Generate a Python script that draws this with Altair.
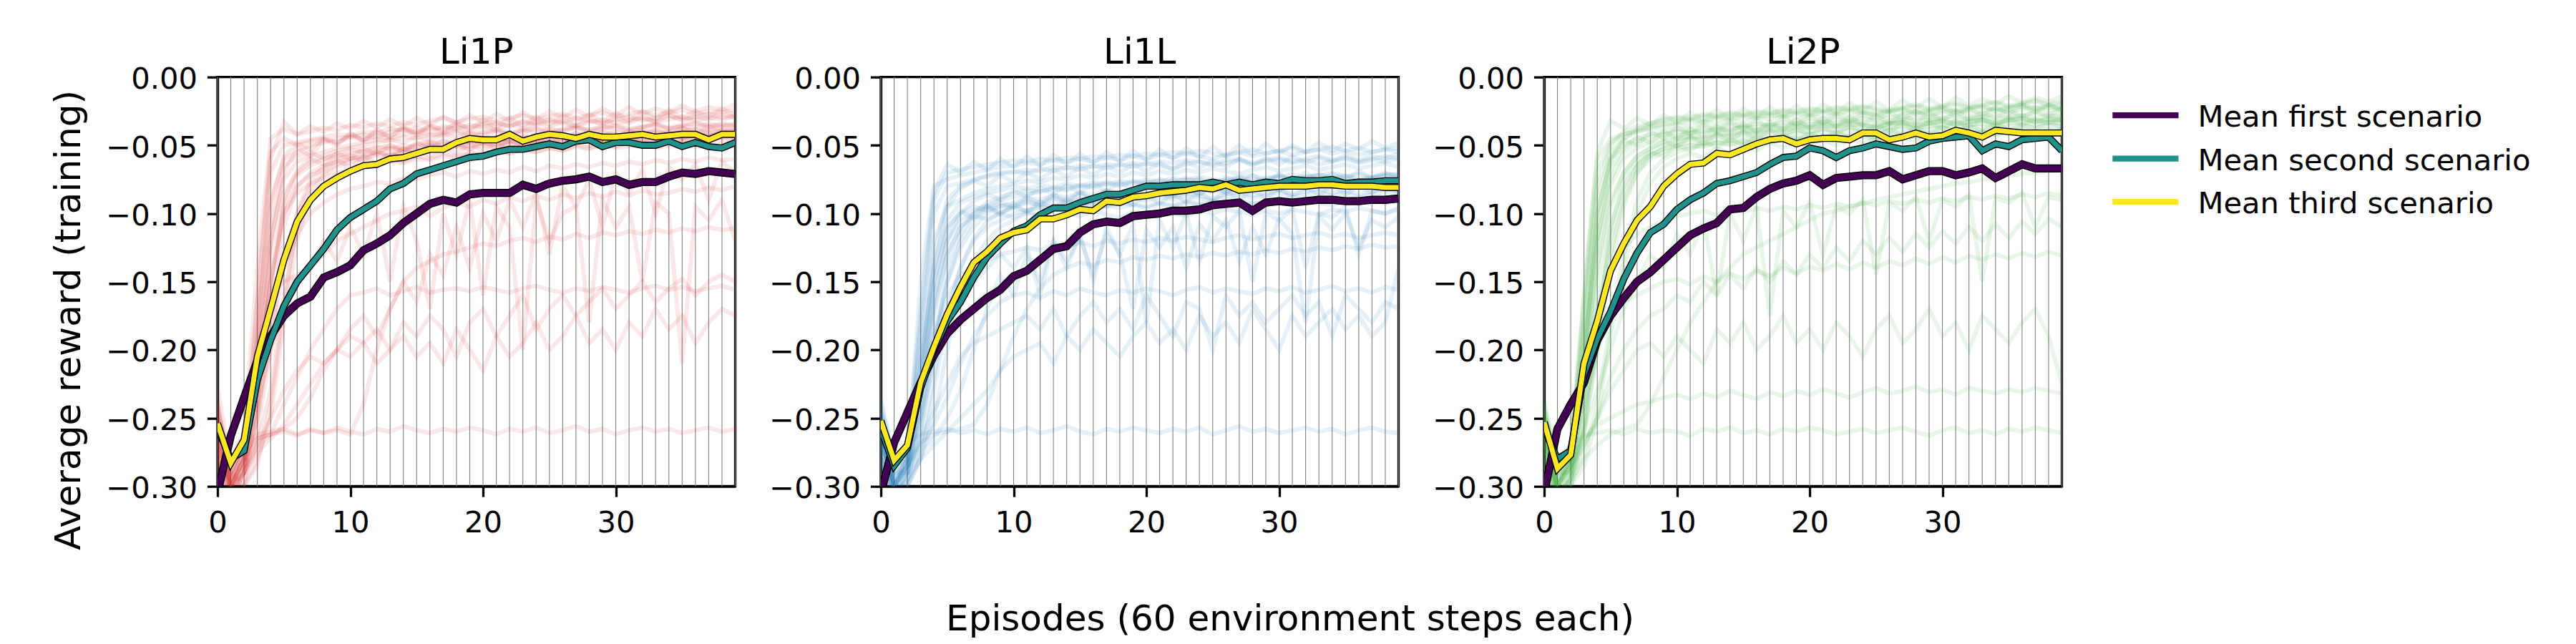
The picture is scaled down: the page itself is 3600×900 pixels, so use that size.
import altair as alt
import pandas as pd

FONT = "DejaVu Sans"

# ---------------- data ----------------
episodes = list(range(40))
panel_names = ["Li1P", "Li1L", "Li2P"]
run_colors = ["#d62728", "#1f77b4", "#2ca02c"]
scenario_names = ["Mean first scenario", "Mean second scenario", "Mean third scenario"]
scenario_colors = ["#440154", "#21918c", "#fde725"]
x_ticks = [0, 10, 20, 30]
y_ticks = [-0.30, -0.25, -0.20, -0.15, -0.10, -0.05, 0.00]

# mean curves (average reward per episode)
li1p_first = [-0.305, -0.263, -0.235, -0.208, -0.190, -0.175, -0.166, -0.161, -0.147, -0.143,
              -0.138, -0.127, -0.122, -0.116, -0.107, -0.100, -0.093, -0.090, -0.092, -0.086,
              -0.085, -0.085, -0.085, -0.079, -0.082, -0.078, -0.076, -0.075, -0.073, -0.077,
              -0.075, -0.079, -0.077, -0.077, -0.073, -0.070, -0.071, -0.069, -0.070, -0.071]
li1p_second = [-0.258, -0.280, -0.274, -0.222, -0.193, -0.168, -0.150, -0.138, -0.126, -0.112,
               -0.103, -0.097, -0.091, -0.082, -0.078, -0.071, -0.068, -0.065, -0.062, -0.059,
               -0.058, -0.055, -0.053, -0.053, -0.051, -0.049, -0.051, -0.047, -0.046, -0.051,
               -0.048, -0.048, -0.050, -0.050, -0.047, -0.051, -0.048, -0.051, -0.052, -0.048]
li1p_third = [-0.254, -0.283, -0.266, -0.205, -0.170, -0.134, -0.106, -0.090, -0.080, -0.074,
              -0.069, -0.065, -0.064, -0.060, -0.059, -0.056, -0.053, -0.053, -0.048, -0.045,
              -0.046, -0.046, -0.042, -0.047, -0.044, -0.042, -0.043, -0.045, -0.042, -0.044,
              -0.044, -0.043, -0.042, -0.044, -0.043, -0.042, -0.042, -0.046, -0.042, -0.042]

li1l_first = [-0.305, -0.268, -0.246, -0.224, -0.204, -0.188, -0.178, -0.170, -0.162, -0.156,
              -0.146, -0.142, -0.134, -0.126, -0.124, -0.114, -0.108, -0.106, -0.107, -0.102,
              -0.101, -0.100, -0.098, -0.098, -0.097, -0.094, -0.093, -0.092, -0.098, -0.092,
              -0.091, -0.092, -0.091, -0.090, -0.090, -0.091, -0.091, -0.090, -0.090, -0.089]
li1l_second = [-0.258, -0.285, -0.272, -0.228, -0.200, -0.179, -0.165, -0.147, -0.132, -0.122,
               -0.113, -0.109, -0.101, -0.096, -0.096, -0.092, -0.089, -0.086, -0.086, -0.083,
               -0.080, -0.080, -0.079, -0.079, -0.079, -0.077, -0.079, -0.077, -0.079, -0.077,
               -0.078, -0.075, -0.076, -0.076, -0.075, -0.078, -0.077, -0.077, -0.076, -0.076]
li1l_third = [-0.252, -0.281, -0.270, -0.224, -0.198, -0.174, -0.154, -0.136, -0.128, -0.118,
              -0.114, -0.112, -0.104, -0.104, -0.101, -0.097, -0.098, -0.091, -0.092, -0.088,
              -0.087, -0.085, -0.084, -0.083, -0.081, -0.082, -0.079, -0.083, -0.082, -0.081,
              -0.080, -0.080, -0.080, -0.079, -0.079, -0.080, -0.080, -0.080, -0.081, -0.081]

li2p_first = [-0.305, -0.258, -0.240, -0.224, -0.193, -0.175, -0.162, -0.150, -0.143, -0.134,
              -0.125, -0.116, -0.111, -0.107, -0.097, -0.096, -0.088, -0.082, -0.078, -0.076,
              -0.072, -0.079, -0.074, -0.073, -0.072, -0.072, -0.069, -0.075, -0.072, -0.069,
              -0.069, -0.072, -0.070, -0.067, -0.074, -0.069, -0.064, -0.067, -0.067, -0.067]
li2p_second = [-0.258, -0.280, -0.274, -0.218, -0.192, -0.172, -0.148, -0.129, -0.114, -0.108,
               -0.097, -0.090, -0.085, -0.078, -0.076, -0.073, -0.070, -0.064, -0.059, -0.058,
               -0.052, -0.054, -0.059, -0.054, -0.052, -0.049, -0.051, -0.053, -0.052, -0.047,
               -0.045, -0.044, -0.043, -0.054, -0.049, -0.051, -0.046, -0.045, -0.044, -0.054]
li2p_third = [-0.253, -0.287, -0.277, -0.210, -0.179, -0.142, -0.122, -0.105, -0.095, -0.080,
              -0.071, -0.064, -0.063, -0.056, -0.057, -0.053, -0.049, -0.046, -0.045, -0.049,
              -0.046, -0.045, -0.045, -0.046, -0.041, -0.041, -0.046, -0.044, -0.041, -0.044,
              -0.043, -0.039, -0.041, -0.044, -0.039, -0.040, -0.041, -0.041, -0.041, -0.041]

# individual training runs (average reward x 1000)
li1p_runs = [
    [-270,-300,-280,-180,-90,-60,-55,-50,-48,-45, -44,-42,-45,-40,-38,-41,-36,-38,-35,-37, -34,-33,-36,-32,-34,-31,-33,-30,-32,-34, -31,-29,-32,-30,-28,-31,-29,-27,-30,-28],
    [-250,-290,-300,-240,-120,-75,-62,-58,-55,-52, -50,-48,-46,-47,-44,-45,-42,-43,-40,-44, -41,-39,-42,-40,-38,-41,-39,-37,-40,-38, -36,-39,-37,-35,-38,-36,-37,-34,-36,-35],
    [-280,-310,-290,-260,-200,-110,-80,-70,-65,-62, -60,-58,-55,-57,-53,-54,-50,-52,-49,-51, -48,-50,-47,-49,-46,-48,-45,-47,-44,-46, -45,-43,-46,-44,-42,-45,-43,-44,-42,-43],
    [-230,-280,-260,-140,-45,-38,-42,-40,-37,-39, -35,-37,-34,-36,-33,-35,-32,-30,-33,-31, -29,-32,-30,-28,-31,-29,-27,-30,-28,-26, -29,-27,-25,-28,-26,-24,-27,-25,-26,-24],
    [-260,-300,-290,-220,-150,-95,-72,-65,-60,-58, -56,-54,-52,-50,-53,-49,-47,-50,-46,-48, -45,-47,-44,-46,-43,-45,-42,-44,-41,-43, -40,-42,-39,-41,-40,-38,-40,-39,-37,-39],
    [-290,-320,-300,-280,-250,-180,-120,-85,-72,-66, -62,-60,-57,-58,-55,-56,-53,-54,-51,-53, -50,-52,-49,-50,-48,-51,-47,-49,-46,-48, -47,-45,-48,-46,-44,-47,-45,-46,-44,-45],
    [-240,-290,-270,-190,-70,-50,-48,-46,-44,-42, -43,-40,-41,-38,-39,-37,-40,-36,-38,-35, -37,-34,-36,-33,-35,-32,-34,-36,-33,-31, -34,-32,-30,-33,-31,-29,-32,-30,-31,-29],
    [-270,-300,-270,-230,-170,-130,-100,-80,-70,-64, -60,-57,-55,-52,-54,-50,-48,-51,-47,-45, -48,-44,-46,-43,-45,-42,-44,-41,-43,-40, -42,-44,-41,-39,-42,-40,-38,-41,-39,-40],
    [-255,-295,-285,-200,-110,-65,-58,-55,-60,-56, -53,-55,-51,-53,-50,-52,-49,-47,-50,-48, -46,-49,-47,-45,-48,-46,-44,-47,-45,-43, -46,-44,-45,-43,-41,-44,-42,-43,-41,-42],
    [-245,-285,-275,-160,-55,-45,-50,-47,-45,-48, -44,-46,-43,-45,-42,-40,-43,-41,-39,-42, -40,-38,-41,-39,-37,-40,-38,-36,-39,-37, -35,-38,-36,-34,-37,-35,-33,-36,-34,-35],
    [-285,-310,-295,-270,-230,-160,-110,-90,-78,-72, -68,-65,-63,-60,-62,-58,-60,-56,-58,-55, -57,-54,-56,-53,-55,-52,-54,-51,-53,-50, -52,-51,-49,-52,-50,-48,-51,-49,-50,-48],
    [-265,-300,-280,-210,-130,-85,-70,-62,-58,-54, -52,-50,-48,-46,-48,-44,-46,-42,-44,-41, -43,-40,-42,-39,-41,-38,-40,-37,-39,-36, -38,-40,-37,-35,-38,-36,-34,-37,-35,-36],
    [-275,-305,-285,-250,-190,-140,-115,-100,-92,-86, -82,-80,-77,-78,-74,-75,-72,-70,-73,-69, -71,-68,-70,-66,-69,-65,-67,-64,-66,-63, -65,-62,-64,-61,-63,-60,-62,-59,-61,-60],
    [-250,-295,-280,-230,-150,-100,-85,-78,-74,-70, -68,-66,-64,-62,-63,-60,-61,-58,-59,-56, -57,-55,-56,-53,-55,-52,-54,-50,-52,-49, -51,-48,-50,-47,-49,-46,-48,-45,-47,-46],
    [-265,-300,-285,-215,-120,-70,-52,-58,-46,-50, -41,-47,-38,-44,-36,-42,-35,-40,-33,-39, -31,-37,-30,-36,-29,-35,-28,-34,-27,-33, -26,-32,-25,-31,-24,-30,-25,-29,-23,-28],
    [-280,-300,-290,-250,-170,-90,-68,-60,-64,-56, -60,-52,-57,-50,-55,-48,-53,-46,-51,-45, -50,-44,-49,-43,-48,-42,-47,-41,-46,-40, -45,-39,-44,-38,-43,-37,-42,-36,-41,-38],
    [-245,-290,-280,-170,-60,-33,-42,-36,-40,-34, -38,-32,-37,-31,-36,-30,-35,-29,-34,-28, -33,-27,-32,-26,-31,-25,-30,-24,-29,-23, -28,-22,-27,-23,-26,-21,-25,-22,-24,-20],
    [-270,-305,-290,-240,-150,-100,-80,-72,-68,-61, -66,-58,-63,-55,-60,-53,-58,-51,-56,-49, -54,-48,-53,-47,-52,-46,-51,-45,-50,-44, -49,-43,-48,-42,-47,-41,-46,-40,-45,-41],
    [-255,-295,-275,-195,-95,-58,-49,-53,-45,-49, -42,-46,-40,-44,-38,-43,-37,-41,-36,-40, -35,-39,-34,-38,-33,-37,-32,-36,-31,-35, -30,-34,-29,-33,-28,-32,-29,-31,-27,-30],
    [-290,-315,-300,-285,-240,-170,-100,-75,-66,-60, -57,-62,-54,-59,-52,-57,-50,-55,-49,-53, -47,-52,-46,-51,-45,-50,-44,-49,-43,-48, -42,-47,-41,-46,-40,-45,-41,-44,-39,-43],
    [-240,-290,-270,-262,-260,-258,-262,-259,-261,-257, -260,-262,-258,-260,-256,-259,-261,-258,-260,-257, -259,-262,-258,-260,-257,-261,-259,-256,-260,-258, -262,-259,-257,-260,-258,-261,-259,-257,-260,-258],
    [-260,-300,-280,-265,-262,-240,-220,-200,-185,-170, -160,-158,-155,-160,-157,-154,-158,-156,-155,-157, -154,-156,-158,-155,-153,-156,-158,-155,-157,-154, -156,-158,-155,-153,-156,-154,-157,-155,-153,-156],
    [-270,-300,-285,-270,-262,-258,-250,-235,-215,-200, -185,-175,-190,-170,-150,-165,-130,-145,-110,-140, -100,-120,-90,-110,-85,-130,-80,-95,-75,-110, -70,-85,-68,-100,-66,-75,-64,-90,-62,-70],
    [-280,-310,-290,-270,-250,-230,-215,-205,-210,-200, -190,-195,-185,-200,-180,-190,-175,-185,-205,-180, -170,-190,-175,-160,-185,-170,-160,-175,-165,-155, -170,-160,-150,-165,-155,-148,-160,-150,-145,-150],
    [-260,-300,-280,-240,-200,-170,-150,-140,-120,-135, -110,-130,-100,-150,-95,-120,-170,-100,-130,-90, -160,-95,-110,-200,-90,-120,-100,-95,-180,-90, -110,-95,-150,-92,-100,-210,-95,-105,-90,-120],
    [-250,-290,-270,-200,-160,-150,-145,-140,-130,-120, -115,-110,-105,-100,-98,-95,-102,-96,-92,-95, -90,-93,-88,-91,-87,-90,-86,-89,-85,-88, -84,-87,-83,-86,-85,-82,-84,-81,-83,-80],
    [-275,-305,-290,-275,-265,-255,-240,-225,-210,-200, -205,-195,-210,-200,-190,-205,-195,-210,-185,-200, -215,-190,-205,-195,-180,-200,-190,-175,-195,-185, -200,-180,-190,-170,-185,-175,-195,-180,-170,-175],
    [-255,-295,-275,-265,-262,-260,-263,-258,-261,-259, -262,-240,-200,-170,-150,-140,-135,-130,-128,-125, -122,-124,-120,-118,-121,-117,-119,-115,-118,-114, -116,-113,-115,-112,-114,-111,-113,-110,-112,-111],
]

li1l_runs = [
    [-260,-300,-280,-150,-80,-75,-72,-70,-68,-66, -65,-63,-64,-61,-62,-60,-62,-59,-61,-58, -60,-57,-59,-56,-58,-60,-57,-55,-58,-56, -54,-57,-55,-53,-56,-54,-57,-55,-53,-55],
    [-250,-290,-290,-240,-170,-130,-110,-100,-95,-90, -88,-86,-84,-82,-83,-80,-81,-78,-80,-77, -79,-76,-78,-75,-77,-79,-76,-74,-77,-75, -73,-76,-74,-72,-75,-73,-76,-74,-72,-74],
    [-270,-310,-300,-270,-220,-170,-140,-120,-110,-105, -100,-98,-96,-94,-95,-92,-93,-90,-92,-89, -91,-88,-90,-87,-89,-91,-88,-86,-89,-87, -85,-88,-86,-84,-87,-85,-88,-86,-84,-86],
    [-240,-280,-270,-200,-120,-95,-90,-85,-82,-80, -78,-76,-77,-74,-75,-72,-74,-71,-73,-70, -72,-69,-71,-68,-70,-67,-69,-71,-68,-66, -69,-67,-65,-68,-66,-64,-67,-65,-63,-66],
    [-280,-310,-290,-250,-190,-150,-125,-110,-100,-95, -92,-89,-90,-87,-88,-85,-86,-83,-85,-82, -84,-81,-83,-80,-82,-84,-81,-79,-82,-80, -78,-81,-79,-77,-80,-78,-81,-79,-77,-79],
    [-255,-295,-285,-230,-160,-120,-105,-98,-94,-100, -96,-98,-95,-97,-94,-96,-93,-95,-92,-94, -96,-93,-95,-92,-94,-91,-93,-95,-92,-94, -91,-93,-90,-92,-94,-91,-93,-90,-92,-91],
    [-265,-300,-275,-190,-100,-80,-78,-75,-73,-71, -70,-68,-69,-66,-67,-65,-66,-64,-65,-63, -64,-62,-63,-61,-62,-64,-61,-60,-63,-61, -59,-62,-60,-58,-61,-59,-62,-60,-58,-60],
    [-285,-320,-300,-280,-250,-200,-160,-135,-120,-110, -105,-100,-102,-98,-100,-96,-98,-94,-96,-93, -95,-92,-94,-91,-93,-95,-92,-90,-93,-91, -89,-92,-90,-88,-91,-89,-92,-90,-88,-90],
    [-245,-285,-270,-210,-140,-105,-92,-88,-85,-83, -80,-82,-79,-81,-78,-80,-77,-79,-76,-78, -75,-77,-74,-76,-73,-75,-77,-74,-72,-75, -73,-71,-74,-72,-70,-73,-71,-74,-72,-71],
    [-275,-305,-295,-260,-200,-140,-115,-100,-92,-88, -85,-83,-84,-81,-82,-79,-80,-77,-79,-76, -78,-75,-77,-74,-76,-78,-75,-73,-76,-74, -72,-75,-73,-71,-74,-72,-75,-73,-71,-72],
    [-260,-300,-285,-220,-150,-110,-100,-95,-98,-94, -96,-92,-94,-90,-92,-89,-91,-88,-90,-87, -89,-86,-88,-85,-87,-89,-86,-84,-87,-85, -83,-86,-84,-82,-85,-83,-86,-84,-82,-84],
    [-250,-290,-280,-180,-90,-70,-68,-66,-64,-63, -61,-62,-60,-61,-59,-60,-58,-59,-57,-58, -56,-57,-55,-56,-54,-56,-58,-55,-53,-56, -54,-52,-55,-53,-51,-54,-52,-55,-53,-52],
    [-270,-305,-290,-240,-175,-130,-110,-102,-104,-100, -103,-99,-101,-104,-100,-102,-98,-101,-103,-99, -101,-98,-100,-102,-98,-100,-97,-99,-101,-98, -100,-97,-99,-101,-97,-99,-96,-98,-100,-97],
    [-255,-295,-280,-220,-130,-90,-80,-76,-72,-70, -69,-71,-67,-69,-66,-68,-65,-67,-64,-66, -63,-65,-67,-64,-62,-65,-63,-61,-64,-62, -60,-63,-61,-64,-62,-60,-63,-61,-62,-60],
    [-265,-300,-285,-210,-140,-95,-82,-76,-80,-72, -77,-70,-75,-68,-73,-66,-72,-65,-70,-64, -69,-63,-68,-62,-67,-61,-66,-60,-65,-59, -64,-58,-63,-59,-62,-57,-61,-58,-60,-56],
    [-280,-305,-295,-255,-200,-150,-120,-105,-96,-92, -95,-88,-93,-86,-91,-84,-90,-83,-89,-82, -88,-81,-87,-80,-86,-79,-85,-78,-84,-77, -83,-76,-82,-75,-81,-76,-80,-74,-79,-75],
    [-245,-285,-270,-170,-85,-64,-70,-62,-68,-60, -66,-58,-65,-57,-64,-56,-63,-55,-62,-54, -61,-53,-60,-52,-59,-51,-58,-50,-57,-49, -56,-50,-55,-48,-54,-49,-53,-47,-52,-48],
    [-270,-300,-290,-235,-165,-120,-100,-91,-86,-90, -83,-88,-81,-86,-79,-85,-78,-84,-77,-83, -76,-82,-75,-81,-74,-80,-73,-79,-72,-78, -71,-77,-70,-76,-71,-75,-69,-74,-70,-73],
    [-255,-295,-280,-225,-150,-112,-98,-104,-95,-101, -93,-99,-91,-97,-89,-96,-88,-95,-87,-94, -86,-93,-85,-92,-84,-91,-83,-90,-82,-89, -81,-88,-80,-87,-79,-86,-80,-85,-78,-84],
    [-285,-315,-300,-280,-230,-175,-140,-118,-106,-99, -95,-91,-94,-88,-92,-86,-90,-85,-89,-84, -88,-83,-87,-82,-86,-81,-85,-80,-84,-79, -83,-78,-82,-77,-81,-78,-80,-76,-79,-77],
    [-235,-285,-268,-262,-260,-258,-261,-259,-262,-258, -260,-257,-261,-259,-256,-260,-262,-258,-260,-257, -259,-261,-258,-260,-257,-262,-259,-256,-260,-258, -261,-259,-257,-260,-258,-262,-259,-257,-260,-261],
    [-255,-300,-285,-270,-255,-235,-210,-190,-175,-165, -160,-158,-162,-157,-160,-155,-158,-160,-156,-158, -155,-157,-160,-156,-154,-158,-155,-157,-159,-155, -157,-154,-158,-156,-153,-157,-155,-158,-154,-156],
    [-270,-305,-290,-275,-265,-250,-230,-200,-170,-145, -160,-130,-150,-120,-140,-115,-150,-110,-130,-108, -180,-105,-125,-100,-135,-102,-110,-98,-150,-100, -105,-97,-140,-100,-103,-95,-130,-98,-100,-96],
    [-265,-300,-285,-265,-245,-225,-205,-195,-190,-185, -180,-175,-185,-170,-190,-175,-165,-180,-170,-185, -160,-175,-190,-165,-170,-200,-160,-175,-165,-180, -170,-160,-175,-165,-190,-160,-170,-180,-165,-170],
    [-250,-290,-275,-230,-190,-160,-145,-140,-135,-130, -128,-125,-127,-123,-125,-121,-124,-120,-122,-119, -121,-118,-120,-117,-119,-121,-118,-116,-119,-117, -115,-118,-116,-114,-117,-115,-118,-116,-114,-116],
    [-280,-310,-295,-280,-270,-260,-250,-240,-230,-215, -205,-200,-195,-210,-190,-200,-185,-195,-205,-190, -180,-195,-185,-200,-175,-190,-180,-195,-170,-185, -200,-175,-190,-180,-170,-185,-175,-190,-180,-140],
    [-260,-300,-280,-250,-210,-180,-160,-150,-140,-130, -140,-125,-160,-120,-135,-118,-145,-115,-130,-170, -112,-125,-110,-140,-108,-120,-105,-135,-110,-130, -104,-115,-180,-102,-112,-100,-125,-105,-110,-103],
    [-265,-300,-285,-268,-262,-260,-258,-255,-240,-215, -190,-170,-155,-145,-140,-136,-138,-134,-136,-132, -134,-131,-133,-130,-132,-129,-131,-128,-130,-127, -129,-126,-128,-125,-127,-124,-126,-123,-125,-124],
]

li2p_runs = [
    [-260,-300,-280,-160,-60,-45,-42,-40,-38,-37, -35,-36,-33,-34,-32,-33,-30,-31,-29,-31, -28,-30,-27,-29,-26,-28,-30,-27,-25,-28, -26,-24,-27,-25,-23,-26,-24,-22,-25,-23],
    [-250,-290,-290,-230,-130,-80,-60,-52,-48,-45, -43,-41,-40,-38,-39,-36,-37,-35,-36,-34, -35,-33,-34,-32,-33,-35,-32,-31,-33,-31, -30,-32,-30,-29,-31,-29,-28,-30,-28,-29],
    [-270,-310,-300,-260,-200,-140,-95,-70,-58,-52, -48,-45,-46,-43,-44,-41,-42,-40,-41,-39, -40,-38,-39,-37,-38,-40,-37,-36,-38,-36, -35,-37,-35,-34,-36,-34,-33,-35,-33,-34],
    [-240,-280,-270,-180,-80,-50,-40,-36,-34,-32, -30,-31,-28,-29,-27,-28,-26,-27,-25,-26, -24,-25,-23,-24,-22,-24,-26,-23,-21,-24, -22,-20,-23,-21,-19,-22,-20,-18,-21,-19],
    [-280,-310,-290,-240,-170,-110,-80,-65,-57,-53, -50,-48,-49,-46,-47,-44,-45,-43,-44,-41, -42,-40,-41,-39,-40,-42,-39,-38,-40,-38, -37,-39,-37,-36,-38,-36,-35,-37,-35,-36],
    [-255,-295,-285,-210,-100,-60,-50,-45,-42,-40, -38,-39,-36,-37,-35,-36,-34,-35,-33,-34, -32,-33,-31,-32,-30,-32,-34,-31,-29,-32, -30,-28,-31,-29,-27,-30,-28,-26,-29,-27],
    [-265,-300,-275,-200,-120,-75,-55,-48,-44,-42, -40,-41,-39,-40,-38,-37,-39,-36,-38,-35, -37,-34,-36,-33,-35,-37,-34,-33,-36,-34, -32,-35,-33,-31,-34,-32,-30,-33,-31,-32],
    [-285,-320,-300,-275,-240,-180,-130,-90,-70,-60, -55,-52,-50,-48,-50,-47,-48,-45,-46,-44, -45,-43,-44,-42,-43,-45,-42,-41,-43,-41, -40,-42,-40,-39,-41,-39,-38,-40,-38,-39],
    [-245,-285,-270,-190,-90,-55,-45,-40,-37,-35, -34,-32,-33,-30,-31,-29,-30,-28,-29,-27, -28,-26,-27,-25,-26,-28,-25,-24,-27,-25, -23,-26,-24,-22,-25,-23,-21,-24,-22,-23],
    [-275,-305,-295,-250,-180,-120,-85,-65,-55,-50, -46,-44,-45,-42,-43,-40,-41,-39,-40,-37, -38,-36,-37,-35,-36,-38,-35,-34,-36,-34, -33,-35,-33,-32,-34,-32,-31,-33,-31,-32],
    [-260,-300,-285,-220,-140,-90,-70,-58,-52,-48, -45,-43,-44,-41,-42,-39,-40,-38,-39,-36, -37,-35,-36,-34,-35,-37,-34,-33,-35,-33, -32,-34,-32,-31,-33,-31,-30,-32,-30,-31],
    [-250,-290,-280,-170,-70,-48,-42,-39,-36,-34, -33,-31,-32,-29,-30,-28,-29,-27,-28,-26, -27,-25,-26,-24,-25,-27,-24,-23,-26,-24, -22,-25,-23,-21,-24,-22,-20,-23,-21,-22],
    [-275,-310,-295,-260,-200,-130,-90,-70,-60,-55, -52,-50,-51,-48,-49,-47,-48,-46,-47,-45, -46,-44,-45,-43,-44,-46,-43,-42,-44,-42, -41,-43,-41,-40,-42,-40,-39,-41,-39,-40],
    [-245,-285,-275,-200,-100,-60,-45,-38,-34,-31, -29,-30,-27,-28,-26,-27,-25,-26,-24,-25, -23,-24,-22,-23,-21,-23,-25,-22,-20,-23, -21,-19,-22,-20,-18,-21,-19,-17,-20,-18],
    [-265,-300,-285,-205,-110,-62,-46,-50,-40,-45, -37,-42,-35,-40,-33,-38,-32,-37,-30,-35, -29,-34,-28,-33,-27,-32,-26,-31,-25,-30, -24,-29,-23,-28,-22,-27,-21,-26,-20,-25],
    [-280,-305,-295,-255,-190,-110,-75,-62,-55,-58, -50,-54,-47,-52,-45,-50,-43,-48,-42,-47, -41,-46,-40,-45,-39,-44,-38,-43,-37,-42, -36,-41,-35,-40,-34,-39,-35,-38,-33,-37],
    [-245,-285,-270,-160,-55,-32,-38,-30,-35,-28, -33,-26,-31,-24,-30,-23,-29,-22,-28,-21, -27,-20,-26,-19,-25,-18,-24,-17,-23,-16, -22,-15,-21,-16,-20,-14,-19,-15,-18,-14],
    [-270,-300,-290,-230,-150,-95,-70,-58,-52,-47, -51,-44,-49,-42,-47,-40,-46,-39,-44,-38, -43,-37,-42,-36,-41,-35,-40,-34,-39,-33, -38,-32,-37,-31,-36,-30,-35,-31,-34,-30],
    [-255,-295,-280,-215,-120,-68,-52,-44,-48,-40, -45,-38,-43,-36,-41,-34,-40,-33,-38,-31, -37,-30,-36,-29,-35,-28,-34,-27,-33,-26, -32,-25,-31,-26,-30,-24,-29,-25,-28,-23],
    [-290,-315,-300,-285,-250,-190,-140,-100,-78,-66, -60,-56,-59,-52,-56,-50,-54,-48,-52,-47, -51,-46,-50,-45,-49,-44,-48,-43,-47,-42, -46,-41,-45,-40,-44,-39,-43,-40,-42,-38],
    [-238,-288,-270,-263,-261,-259,-262,-258,-261,-259, -260,-263,-258,-260,-257,-261,-259,-262,-258,-260, -257,-259,-262,-260,-258,-261,-259,-257,-260,-263, -259,-257,-261,-259,-262,-258,-260,-257,-259,-261],
    [-260,-300,-280,-265,-255,-250,-245,-240,-238,-235, -233,-236,-232,-235,-230,-233,-236,-231,-234,-230, -233,-229,-232,-235,-231,-228,-232,-230,-227,-231, -229,-233,-228,-230,-232,-229,-231,-228,-230,-232],
    [-270,-300,-285,-260,-230,-200,-170,-150,-130,-140, -115,-130,-105,-160,-100,-120,-95,-175,-98,-110, -92,-130,-95,-100,-90,-145,-92,-98,-88,-120, -90,-95,-86,-150,-89,-92,-85,-110,-88,-90],
    [-265,-300,-285,-270,-250,-220,-200,-185,-175,-170, -160,-165,-150,-160,-145,-155,-140,-150,-135,-145, -130,-140,-125,-135,-120,-130,-118,-128,-115,-125, -113,-122,-110,-120,-108,-118,-106,-115,-104,-110],
    [-250,-290,-270,-220,-170,-140,-125,-115,-110,-105, -102,-100,-98,-101,-97,-99,-96,-98,-95,-97, -94,-96,-93,-95,-92,-94,-91,-93,-90,-92, -89,-91,-88,-90,-87,-89,-86,-88,-85,-87],
    [-280,-310,-295,-280,-270,-262,-258,-255,-240,-220, -200,-180,-165,-150,-140,-130,-125,-120,-115,-110, -105,-100,-98,-95,-93,-90,-88,-86,-84,-82, -80,-78,-77,-75,-74,-72,-71,-70,-69,-68],
    [-270,-305,-290,-270,-250,-230,-215,-200,-195,-205, -190,-200,-210,-185,-195,-180,-200,-190,-175,-195, -185,-200,-180,-190,-205,-185,-175,-195,-185,-170, -190,-180,-200,-175,-185,-195,-180,-170,-190,-225],
    [-255,-295,-280,-240,-200,-175,-165,-160,-155,-150, -148,-152,-146,-150,-144,-148,-142,-146,-140,-144, -139,-142,-137,-141,-136,-140,-135,-138,-133,-137, -132,-136,-131,-134,-130,-133,-129,-132,-128,-131],
]

panel_means = [
    [li1p_first, li1p_second, li1p_third],
    [li1l_first, li1l_second, li1l_third],
    [li2p_first, li2p_second, li2p_third],
]
panel_runs = [li1p_runs, li1l_runs, li2p_runs]

for runs in panel_runs:
    for r in runs:
        assert len(r) == len(episodes), len(r)
for means in panel_means:
    for m in means:
        assert len(m) == len(episodes), len(m)

# ---------------- layout constants ----------------
PLOT_W = 723.5
PLOT_H = 571.8
mean_widths = [8.5, 7.0, 7.0]
outline_extra = 2.8


def make_panel(idx):
    name = panel_names[idx]
    runs_df = pd.DataFrame(
        [{"run": r, "episode": e, "reward": v / 1000.0}
         for r, vals in enumerate(panel_runs[idx])
         for e, v in zip(episodes, vals)]
    )
    grid_df = pd.DataFrame({"episode": episodes})

    xscale = alt.Scale(domain=[0, 39], nice=False, zero=False)
    yscale = alt.Scale(domain=[-0.30, 0.0], nice=False, zero=False)

    if idx == 1:
        xaxis = alt.Axis(values=x_ticks, format="d",
                         title="Episodes (60 environment steps each)",
                         titleX=571.5, titleY=200.6, titleAngle=0,
                         titleAlign="center", titleBaseline="alphabetic")
    else:
        xaxis = alt.Axis(values=x_ticks, format="d", title="")
    if idx == 0:
        yaxis = alt.Axis(values=y_ticks, format=".2f",
                         title="Average reward (training)",
                         titleX=-193, titleY=339.4, titleAngle=270,
                         titleAlign="center", titleBaseline="alphabetic")
    else:
        yaxis = alt.Axis(values=y_ticks, format=".2f", title="")

    x_enc = alt.X("episode:Q", scale=xscale, axis=xaxis)
    y_enc = alt.Y("reward:Q", scale=yscale, axis=yaxis)

    layers = [
        alt.Chart(grid_df).mark_rule(color="#808080", strokeWidth=1.1).encode(x=x_enc),
        alt.Chart(runs_df).mark_line(color=run_colors[idx], opacity=0.11,
                                     strokeWidth=6, clip=True)
        .encode(x=x_enc, y=y_enc, detail="run:N"),
    ]
    for s in range(3):
        mdf = pd.DataFrame({"episode": episodes, "reward": panel_means[idx][s]})
        w = mean_widths[s]
        layers.append(
            alt.Chart(mdf).mark_line(color="black", strokeWidth=w + outline_extra, clip=True)
            .encode(x=x_enc, y=y_enc)
        )
        layers.append(
            alt.Chart(mdf).mark_line(color=scenario_colors[s], strokeWidth=w, clip=True)
            .encode(x=x_enc, y=y_enc)
        )

    return alt.layer(*layers).properties(
        width=PLOT_W,
        height=PLOT_H,
        title=alt.TitleParams(name, fontSize=50, font=FONT, fontWeight="normal",
                              color="black", frame="group", anchor="middle",
                              baseline="alphabetic", offset=-48),
        view=alt.ViewBackground(stroke="black", strokeWidth=3.3, strokeOpacity=1),
    )


panels = [make_panel(i) for i in range(3)]

# legend drawn as its own small view to the right of the third panel
legend_df = pd.DataFrame({"label": scenario_names, "row": [0, 1, 2]})
leg_y = alt.Y("row:Q", scale=alt.Scale(domain=[0, 2], range=[53.4, 174.4]), axis=None)
leg_color = alt.Color("label:N", scale=alt.Scale(domain=scenario_names, range=scenario_colors),
                      legend=None)
legend_rules = alt.Chart(legend_df).mark_rule(strokeWidth=8.3).encode(
    x=alt.value(-132.7), x2=alt.value(-40.5), y=leg_y, color=leg_color
)
legend_text = alt.Chart(legend_df).mark_text(
    align="left", baseline="middle", dy=3, fontSize=41.67, font=FONT, color="black"
).encode(x=alt.value(-13.5), y=leg_y, text="label:N")
legend_view = alt.layer(legend_rules, legend_text).properties(width=460, height=PLOT_H)

chart = alt.hconcat(*panels, legend_view, spacing=203, bounds="flush").properties(
    padding={"left": 61, "top": 38.7, "right": 5, "bottom": 0}
).configure(
    font=FONT, background="white"
).configure_view(
    strokeOpacity=0
).configure_axis(
    labelFont=FONT, labelFontSize=41.67, labelColor="black",
    titleFont=FONT, titleFontSize=50, titleFontWeight="normal", titleColor="black",
    tickColor="black", tickWidth=3.3, tickSize=14.6,
    domainColor="black", domainWidth=3.3, grid=False,
    labelFlush=False, labelOverlap=False, zindex=1,
).configure_axisX(
    labelPadding=16
).configure_axisY(
    labelPadding=14, labelOffset=3
)

chart.save("out.html", embed_options={"renderer": "svg", "actions": False})
